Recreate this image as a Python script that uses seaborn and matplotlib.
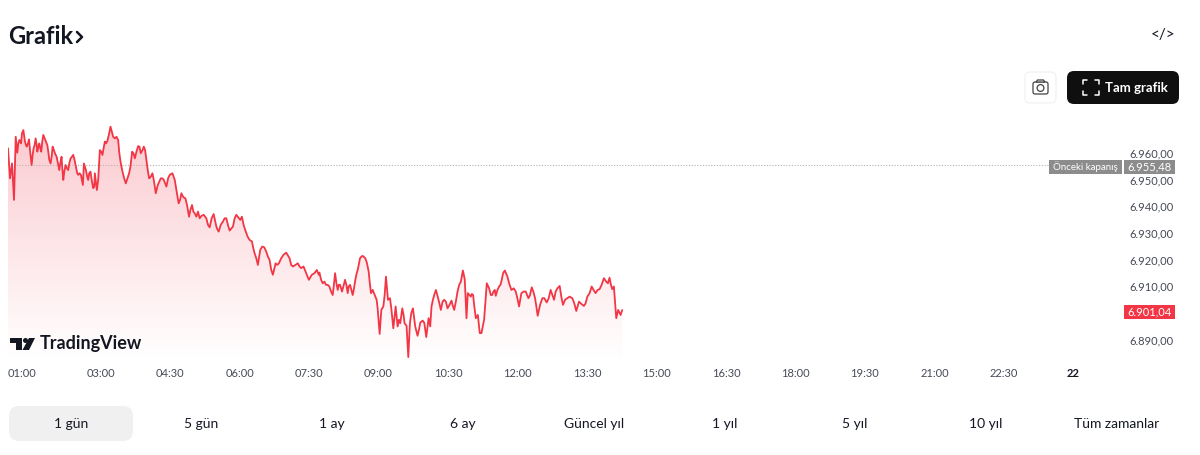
import numpy as np
import pandas as pd
import seaborn as sns
import matplotlib.pyplot as plt
from matplotlib.colors import LinearSegmentedColormap
from matplotlib.patches import Circle, FancyBboxPatch, Polygon, Rectangle

# minutes after 01:00
minutes = [
    0, 2.6, 5.2, 7.8, 10, 12, 14.7, 16.9, 19.9, 22, 24.2, 27.2, 30.6, 33.2, 35.8, 38, 40.6, 43.1, 45.7, 49.2,
    52.2, 55.2, 57.8, 60.8, 63, 66.4, 69.4, 71.6, 74.6, 78, 81.1, 84.5, 88, 91, 94.4, 97, 98.3, 100.9, 103.9, 106.9,
    110.4, 112.5, 115.1, 119, 122.4, 125.5, 128.5, 132.8, 136.2, 142.7, 145.7, 148.3, 152.6, 156.9, 160.8, 164.3, 168.6, 172, 175.9, 179.3,
    182.8, 187.1, 191.4, 197.9, 201.8, 205.2, 209.5, 213, 218.1, 221.1, 224.6, 229.8, 234.5, 238.4, 241.8, 246.1, 248.3, 253.5, 256.9, 261.2,
    266.4, 269.9, 272.9, 278.5, 282.8, 287.1, 291.4, 295.7, 299.2, 303, 307.3, 312.9, 316, 319.4, 323.7, 329.3, 334.5, 338.8, 343.1, 346.6,
    350.9, 353.9, 360.4, 364.7, 369, 375.4, 379.8, 386.2, 389.7, 397, 402.6,
    403.4, 407.7, 412, 416.3, 420.6, 423.7, 427.1, 430.1, 432.7, 436.6, 440, 443.1, 446.5, 449.9, 453, 456, 459.4, 462.9, 467.2, 470.2,
    472.4, 475.8, 478.8, 481.4, 483.6, 486.2, 489.6, 492.2, 494.8, 499.1, 502.1, 504.7, 508.1, 510.7, 513.7, 516.3, 518.5, 520.6, 524.5, 527.5,
    530.5, 534, 539.2, 541.8, 544.8, 546.9, 550.4, 554.3, 557.7, 560.7, 565, 569.3, 574.5, 578, 582.3, 586.6, 589.2, 591.7, 593.9, 595.6,
    599.5, 602.5, 606, 608.6, 611.1, 613.3, 616.7, 620.2, 625.4, 628.8, 631.8, 636.1, 639.6, 643.5, 646.9, 652.1, 657.7, 662, 665, 670.6,
    674.1, 678.4, 682.7, 686.1, 692.2, 697.8, 702.9, 707.3, 711.6, 714.6, 718.9, 724.5, 731, 736.1, 739.6, 746, 750.4, 756, 761.1, 766.3,
    771.9, 774.9, 779.2, 782.7, 784.8, 787.9, 790.4, 793.5, 795.6,
]
prices = [
    6961.8, 6950.5, 6956.1, 6942.4, 6966.1, 6960.1, 6964.9, 6963.6, 6968.6, 6964.3, 6962.4, 6965.1, 6955.5, 6961.8, 6965.5, 6960.5, 6963.6, 6960.5, 6966.8, 6964.3,
    6960.5, 6956.1, 6962.4, 6959.9, 6958.6, 6953.6, 6958.6, 6949.9, 6955.5, 6953.6, 6958, 6959.3, 6954.9, 6951.8, 6951.8, 6948, 6956.1, 6953.6, 6949.9, 6953,
    6946.8, 6952.4, 6946.1, 6961.1, 6959.3, 6964.3, 6964.3, 6969.9, 6966.1, 6964.9, 6956.8, 6953, 6948.6, 6952.4, 6960.5, 6958, 6962.6, 6959.9, 6962.4, 6957.4,
    6950.5, 6952.4, 6944.9, 6950.5, 6949.9, 6947.4, 6951.8, 6952.4, 6946.1, 6941.1, 6944.9, 6943, 6936.1, 6940.5, 6937.4, 6938, 6935.5, 6936.8, 6935.5, 6932.1,
    6937.1, 6932.4, 6930.5, 6934.3, 6935.5, 6930.9, 6932.4, 6936.8, 6935.5, 6936.1, 6931.1, 6927.4, 6926.8, 6922.4, 6918, 6924.9, 6923, 6919.9, 6914.3, 6918.6,
    6918.6, 6920.5, 6922.6, 6920.5, 6917.4, 6918.6, 6916.8, 6914.9, 6912.4, 6914.9, 6914.3,
    6915.1, 6911.1, 6910.5, 6909.9, 6906.7, 6914.9, 6908.6, 6910.5, 6908, 6912.4, 6907.4, 6910.5, 6906.7, 6912.4, 6916.1, 6920.5, 6921.4, 6920.5, 6915.5, 6907.4,
    6908.6, 6906.1, 6901.7, 6892.1, 6901.1, 6902.4, 6913.6, 6904.9, 6905.5, 6894.2, 6902.4, 6894.9, 6896.1, 6901.7, 6896.1, 6895.1, 6883.4, 6896.1, 6901.7, 6894.9,
    6891.4, 6896.3, 6896.3, 6890.9, 6898, 6894.9, 6904.9, 6908.6, 6904.9, 6901.1, 6904.9, 6901.7, 6904.6, 6901.1, 6908, 6911.7, 6915.9, 6912.4, 6898, 6907.4,
    6906.1, 6906.7, 6898, 6899.2, 6892.4, 6892.4, 6897.4, 6911.1, 6906.7, 6908, 6906.4, 6909.9, 6912.4, 6915.9, 6913.6, 6908.6, 6908, 6902.4, 6907.4, 6908,
    6905.5, 6909.6, 6905.5, 6898.9, 6905.5, 6903.9, 6908.6, 6904.9, 6909.2, 6910.1, 6903, 6905.5, 6905.5, 6900.7, 6904.2, 6902.6, 6906.1, 6909.9, 6907.4, 6908.9,
    6913, 6911.7, 6913.2, 6908.9, 6909.9, 6898, 6901.1, 6899.2, 6901.04,
]

# smaller wiggles between the points above
detail_minutes = [
    13.4, 18.1, 21.2, 23.3, 25.9, 28.9, 31.9, 34.5, 37.1, 39.3, 41.8, 44.4, 47.5, 50.9, 53.5, 56.5, 59.1, 64.7, 67.7, 70.3,
    72.9, 76.3, 79.4, 82.8, 86.2, 89.7, 92.7, 95.7, 99.6, 102.6, 105.2, 108.7, 111.7, 113.8, 116.8, 120.7, 124.2, 126.8, 130.6, 134.5,
    138.4, 140.6, 144, 150.5, 154.8, 158.6, 162.5, 166.4, 170.3, 174.2, 177.6, 181, 184.9, 189.2, 194, 200, 207.4, 216, 219.9, 222.9,
    227.2, 231.9, 236.2, 240.1, 244, 250.5, 259.1, 263.8, 268.1, 271.1, 275.5, 280.6, 284.9, 293.6, 300.9, 305.2, 310.4, 317.7, 321.6, 326.7,
    331.9, 336.7, 341, 348.7, 356.9, 366.8, 372.4, 377.6, 382.8, 393.6, 400,
    405.6, 409.9, 414.2, 418.5, 421.9, 425.4, 428.4, 431.4, 434.4, 438.3, 441.3, 444.8, 448.2, 451.7, 457.7, 465, 468.9, 477.5, 487.9, 490.9,
    496.5, 500.8, 506.4, 512.4, 522.4, 526.2, 532.7, 537, 548.6, 552.1, 556, 562.9, 567.2, 571.9, 575.8, 580.1, 584.4, 590.5, 600.8, 603.8,
    623.2, 627.1, 630.5, 634, 637.9, 641.3, 649.1, 655.1, 659.8, 668, 676.2, 680.5, 684.4, 689.2, 694.8, 700.4, 705.1, 709.4, 716.7, 721.5,
    727.5, 733.5, 742.6, 748.2, 753.4, 758.5, 763.7, 768.9, 777.1, 781,
]
detail_prices = [
    6963.6, 6967.4, 6966.1, 6963, 6963.6, 6959.9, 6959.3, 6963, 6963, 6962.4, 6961.8, 6964.3, 6965.5, 6963, 6957.4, 6958.6, 6961.4, 6956.1, 6956.1, 6954.3,
    6953, 6954.3, 6956.1, 6958.6, 6957.4, 6952.4, 6952.4, 6949.9, 6954.9, 6951.1, 6952.4, 6949.3, 6947.4, 6949.3, 6949.9, 6960.5, 6962.4, 6963.6, 6966.8, 6968,
    6965.5, 6966.1, 6960.5, 6950.5, 6950.5, 6954.9, 6959.9, 6960.5, 6962.4, 6961.1, 6961.1, 6953.6, 6951.1, 6949.3, 6948, 6950.5, 6950.5, 6949.9, 6943, 6942.4,
    6943.4, 6940.5, 6938.6, 6938, 6936.1, 6936.4, 6933, 6935.5, 6934.9, 6931.4, 6933, 6935.5, 6933, 6935.5, 6934.9, 6933, 6928.6, 6924.3, 6920.5, 6923.6,
    6924.6, 6921.1, 6916.1, 6918, 6921.8, 6918, 6918, 6917.4, 6917.4, 6914.3, 6916.1,
    6912.4, 6911.7, 6910.5, 6908, 6909.9, 6911.1, 6910.5, 6909.2, 6909.9, 6910.5, 6909.9, 6908.6, 6909.2, 6914.9, 6921.1, 6918.6, 6910.5, 6904.9, 6906.7, 6909.2,
    6901.7, 6898.6, 6897.4, 6899.2, 6899.9, 6898, 6894.2, 6897.1, 6902.4, 6906.7, 6906.7, 6904.2, 6904.2, 6903, 6903, 6904.2, 6910.5, 6914.2, 6907.1, 6903,
    6909.2, 6906.7, 6908.6, 6908.6, 6910.5, 6914.9, 6911.1, 6909.2, 6905.5, 6908, 6906.7, 6908, 6902.4, 6903, 6905.5, 6905.5, 6906.7, 6908, 6906.1, 6904.9,
    6906.1, 6903.6, 6903.4, 6903.6, 6907.4, 6908.6, 6908.6, 6910.5, 6911.1, 6910.5,
]

previous_close = 6955.48
last_price = 6901.04

x_ticks = [0, 120, 210, 300, 390, 480, 570, 660, 750, 840, 930, 1020, 1110, 1200, 1290, 1380]
x_labels = ["01:00", "03:00", "04:30", "06:00", "07:30", "09:00", "10:30", "12:00", "13:30",
            "15:00", "16:30", "18:00", "19:30", "21:00", "22:30", "22"]
y_ticks = [6960, 6950, 6940, 6930, 6920, 6910, 6900, 6890]
y_labels = ["6.960,00", "6.950,00", "6.940,00", "6.930,00", "6.920,00", "6.910,00", "", "6.890,00"]
ranges = ["1 gün", "5 gün", "1 ay", "6 ay", "Güncel yıl", "1 yıl", "5 yıl", "10 yıl", "Tüm zamanlar"]
range_x = [71, 201, 332, 463, 594, 725, 855, 986, 1117]

RED = "#F23645"
INK = "#131722"
GREY = "#8C8C8C"

sns.set_theme(style="white")
plt.rcParams["font.family"] = ["Lato", "DejaVu Sans"]

W, H = 1200, 455
fig = plt.figure(figsize=(W / 100, H / 100), dpi=100, facecolor="white")

# chart area in pixels: x 8..1122, y 120..360
ax = fig.add_axes([8 / W, 1 - 360 / H, 1114 / W, 240 / H])
df = pd.DataFrame({"minutes": minutes + detail_minutes, "price": prices + detail_prices})
df = df.sort_values("minutes")
sns.lineplot(data=df, x="minutes", y="price", color=RED, lw=1.3, estimator=None, sort=False, ax=ax, zorder=3)

x_lim = (0, 1443)
y_lim = (6882.3, 6972.4)

# fade under the line
cmap = LinearSegmentedColormap.from_list("fade", ["#FFFFFF", "#FBC9CE"])
grad = ax.imshow(np.linspace(1, 0, 256).reshape(-1, 1), extent=[0, minutes[-1], y_lim[0], y_lim[1]],
                 aspect="auto", cmap=cmap, vmin=0, vmax=1, zorder=1)
fill = ax.fill_between(df["minutes"], df["price"], y_lim[0], color="none", lw=0)
grad.set_clip_path(fill.get_paths()[0], transform=ax.transData)

ax.axhline(previous_close, color="#B5B5B5", lw=0.8, ls=(0, (1, 1.5)), zorder=2)

ax.set_xlim(x_lim)
ax.set_ylim(y_lim)
ax.set(xlabel="", ylabel="")
for s in ax.spines.values():
    s.set_visible(False)
ax.patch.set_alpha(0)
ax.grid(False)

ax.set_xticks(x_ticks, x_labels)
ax.yaxis.tick_right()
ax.set_yticks(y_ticks, y_labels)
ax.tick_params(axis="x", length=0, pad=5.5, labelsize=8, labelcolor="#454A55")
ax.tick_params(axis="y", length=0, pad=21, labelsize=8, labelcolor="#454A55")
for t in ax.get_yticklabels():
    t.set_ha("center")
ax.get_xticklabels()[0].set_ha("left")
ax.get_xticklabels()[-1].set_fontweight("bold")
ax.get_xticklabels()[-1].set_color(INK)

# page chrome, drawn in pixel coordinates
ui = fig.add_axes([0, 0, 1, 1], zorder=5)
ui.set_xlim(0, W)
ui.set_ylim(H, 0)
ui.axis("off")
ui.patch.set_alpha(0)

ui.text(8, 36, "Grafik", fontsize=17, fontweight="bold", color=INK, va="center")
ui.plot([77, 82, 77], [32, 37, 42], color=INK, lw=1.8)
ui.text(1163, 34.5, "</>", fontsize=11, color=INK, ha="center", va="center")

# camera button
ui.add_patch(FancyBboxPatch((1025, 72), 31, 31, boxstyle="round,pad=0,rounding_size=5",
                            fc="white", ec="#F0F0F0", lw=0.8))
ui.add_patch(FancyBboxPatch((1033, 82), 15, 12, boxstyle="round,pad=0,rounding_size=2",
                            fc="white", ec="#444444", lw=0.9))
ui.add_patch(Polygon([[1036, 82], [1037.5, 80], [1043.5, 80], [1045, 82]], fc="white", ec="#444444", lw=0.9))
ui.add_patch(Circle((1040.5, 88), 3.4, fc="white", ec="#444444", lw=0.9))

# full chart button
ui.add_patch(FancyBboxPatch((1067, 71), 112, 33, boxstyle="round,pad=0,rounding_size=7", fc="#0F0F0F", ec="none"))
for cx, cy, dx, dy in [(1083, 80, 1, 1), (1099, 80, -1, 1), (1083, 95, 1, -1), (1099, 95, -1, -1)]:
    ui.plot([cx + 4 * dx, cx, cx], [cy, cy, cy + 4 * dy], color="white", lw=1.1)
ui.text(1136, 87.5, "Tam grafik", fontsize=9.5, fontweight="bold", color="white", ha="center", va="center")

# price labels
ui.add_patch(Rectangle((1049, 160), 73, 14, fc=GREY, ec="none"))
ui.text(1085.5, 167, "Önceki kapanış", fontsize=7, color="white", ha="center", va="center")
ui.add_patch(Rectangle((1124, 160), 51, 14, fc=GREY, ec="none"))
ui.text(1149.5, 167, "6.955,48", fontsize=8, color="white", ha="center", va="center")
ui.add_patch(Rectangle((1124, 305), 51, 14, fc=RED, ec="none"))
ui.text(1150, 312, f"6.901,04", fontsize=8, color="white", ha="center", va="center")

# watermark
ui.add_patch(Polygon([[10, 338], [22, 338], [22, 350], [16, 350], [16, 343], [10, 343]], fc=INK, ec="none"))
ui.add_patch(Circle((25.5, 340.5), 2.5, fc=INK, ec="none"))
ui.add_patch(Polygon([[29, 338], [35, 338], [29, 350], [22.5, 350]], fc=INK, ec="none"))
ui.text(40, 344, "TradingView", fontsize=13, fontweight="bold", color=INK, va="center")

# range buttons
ui.add_patch(FancyBboxPatch((9, 406), 124, 35, boxstyle="round,pad=0,rounding_size=10", fc="#F0F0F0", ec="none"))
for label, x in zip(ranges, range_x):
    ui.text(x, 424, label, fontsize=10, color=INK, ha="center", va="center")

fig.savefig("out.png", dpi=100)
